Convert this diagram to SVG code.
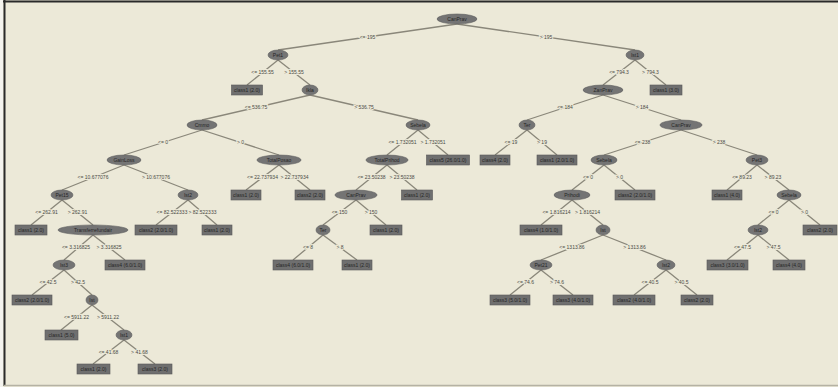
<svg xmlns="http://www.w3.org/2000/svg" width="838" height="387" viewBox="0 0 838 387">
<style>
.bg{fill:#ECE9D8}
.e{fill:#747474;stroke:#606060;stroke-width:0.6}
.l{fill:#6f6f6f;stroke:#585858;stroke-width:0.6}
.t{font-family:"Liberation Sans",Arial,sans-serif;font-size:5px;fill:#262626;text-anchor:middle}
.c line{stroke:#8a877a;stroke-width:1.3}
.c text{font-family:"Liberation Sans",Arial,sans-serif;font-size:5px;fill:#4a4a44;text-anchor:middle;stroke:#ECE9D8;stroke-width:2;paint-order:stroke}
</style>
<rect class="bg" x="0" y="0" width="838" height="387"/>
<rect x="0" y="0" width="3" height="387" fill="#f4f3ee"/>
<line x1="3" y1="1.5" x2="838" y2="1.5" stroke="#2a2a2a" stroke-width="2"/>
<line x1="4.5" y1="0" x2="4.5" y2="386" stroke="#2a2a2a" stroke-width="2"/>
<line x1="4" y1="385.5" x2="838" y2="385.5" stroke="#b5b2a4" stroke-width="1.5"/>
<g class="c" id="connectors">
<line x1="457" y1="24" x2="278" y2="50"/><text x="367.5" y="38.8">&lt;= 195</text>
<line x1="457" y1="24" x2="635" y2="50"/><text x="546" y="38.8">&gt; 195</text>
<line x1="278" y1="60" x2="247" y2="85"/><text x="262.5" y="74.3">&lt;= 155.55</text>
<line x1="278" y1="60" x2="310" y2="85"/><text x="294" y="74.3">&gt; 155.55</text>
<line x1="635" y1="60" x2="603" y2="85"/><text x="619" y="74.3">&lt;= 794.3</text>
<line x1="635" y1="60" x2="666" y2="85"/><text x="650.5" y="74.3">&gt; 794.3</text>
<line x1="310" y1="95" x2="202" y2="120"/><text x="256" y="109.3">&lt;= 536.75</text>
<line x1="310" y1="95" x2="418" y2="120"/><text x="364" y="109.3">&gt; 536.75</text>
<line x1="603" y1="95" x2="527" y2="120"/><text x="565" y="109.3">&lt;= 184</text>
<line x1="603" y1="95" x2="681" y2="120"/><text x="642" y="109.3">&gt; 184</text>
<line x1="202" y1="130" x2="124" y2="155"/><text x="163" y="144.3">&lt;= 0</text>
<line x1="202" y1="130" x2="279" y2="155"/><text x="240.5" y="144.3">&gt; 0</text>
<line x1="418" y1="130" x2="387" y2="155"/><text x="402.5" y="144.3">&lt;= 1.732051</text>
<line x1="418" y1="130" x2="448" y2="155"/><text x="433" y="144.3">&gt; 1.732051</text>
<line x1="527" y1="130" x2="495" y2="155"/><text x="511" y="144.3">&lt;= 19</text>
<line x1="527" y1="130" x2="557" y2="155"/><text x="542" y="144.3">&gt; 19</text>
<line x1="681" y1="130" x2="604" y2="155"/><text x="642.5" y="144.3">&lt;= 238</text>
<line x1="681" y1="130" x2="757" y2="155"/><text x="719" y="144.3">&gt; 238</text>
<line x1="124" y1="165" x2="62" y2="190"/><text x="93" y="179.3">&lt;= 10.677076</text>
<line x1="124" y1="165" x2="188" y2="190"/><text x="156" y="179.3">&gt; 10.677076</text>
<line x1="279" y1="165" x2="246" y2="190"/><text x="262.5" y="179.3">&lt;= 22.737934</text>
<line x1="279" y1="165" x2="310" y2="190"/><text x="294.5" y="179.3">&gt; 22.737934</text>
<line x1="387" y1="165" x2="356" y2="190"/><text x="371.5" y="179.3">&lt;= 23.50238</text>
<line x1="387" y1="165" x2="417" y2="190"/><text x="402" y="179.3">&gt; 23.50238</text>
<line x1="604" y1="165" x2="572" y2="190"/><text x="588" y="179.3">&lt;= 0</text>
<line x1="604" y1="165" x2="635" y2="190"/><text x="619.5" y="179.3">&gt; 0</text>
<line x1="757" y1="165" x2="727" y2="190"/><text x="742" y="179.3">&lt;= 89.23</text>
<line x1="757" y1="165" x2="789" y2="190"/><text x="773" y="179.3">&gt; 89.23</text>
<line x1="62" y1="200" x2="31" y2="225"/><text x="46.5" y="214.3">&lt;= 262.91</text>
<line x1="62" y1="200" x2="93" y2="225"/><text x="77.5" y="214.3">&gt; 262.91</text>
<line x1="188" y1="200" x2="156" y2="225"/><text x="172" y="214.3">&lt;= 82.522333</text>
<line x1="188" y1="200" x2="217" y2="225"/><text x="202.5" y="214.3">&gt; 82.522333</text>
<line x1="356" y1="200" x2="323" y2="225"/><text x="339.5" y="214.3">&lt;= 150</text>
<line x1="356" y1="200" x2="386" y2="225"/><text x="371" y="214.3">&gt; 150</text>
<line x1="572" y1="200" x2="541" y2="225"/><text x="556.5" y="214.3">&lt;= 1.816214</text>
<line x1="572" y1="200" x2="603" y2="225"/><text x="587.5" y="214.3">&gt; 1.816214</text>
<line x1="789" y1="200" x2="758" y2="225"/><text x="773.5" y="214.3">&lt;= 0</text>
<line x1="789" y1="200" x2="820" y2="225"/><text x="804.5" y="214.3">&gt; 0</text>
<line x1="93" y1="235" x2="64" y2="260"/><text x="76" y="249.3">&lt;= 3.316825</text>
<line x1="93" y1="235" x2="125" y2="260"/><text x="109" y="249.3">&gt; 3.316825</text>
<line x1="323" y1="235" x2="293" y2="260"/><text x="308" y="249.3">&lt;= 8</text>
<line x1="323" y1="235" x2="357" y2="260"/><text x="340" y="249.3">&gt; 8</text>
<line x1="603" y1="235" x2="541" y2="260"/><text x="572" y="249.3">&lt;= 1313.86</text>
<line x1="603" y1="235" x2="666" y2="260"/><text x="634.5" y="249.3">&gt; 1313.86</text>
<line x1="758" y1="235" x2="727" y2="260"/><text x="742.5" y="249.3">&lt;= 47.5</text>
<line x1="758" y1="235" x2="789" y2="260"/><text x="773.5" y="249.3">&gt; 47.5</text>
<line x1="64" y1="270" x2="32" y2="295"/><text x="48" y="284.3">&lt;= 42.5</text>
<line x1="64" y1="270" x2="92" y2="295"/><text x="78" y="284.3">&gt; 42.5</text>
<line x1="541" y1="270" x2="510" y2="295"/><text x="525.5" y="284.3">&lt;= 74.6</text>
<line x1="541" y1="270" x2="573" y2="295"/><text x="557" y="284.3">&gt; 74.6</text>
<line x1="666" y1="270" x2="634" y2="295"/><text x="650" y="284.3">&lt;= 40.5</text>
<line x1="666" y1="270" x2="697" y2="295"/><text x="681.5" y="284.3">&gt; 40.5</text>
<line x1="92" y1="305" x2="61" y2="330"/><text x="76.5" y="319.3">&lt;= 5911.22</text>
<line x1="92" y1="305" x2="124" y2="330"/><text x="108" y="319.3">&gt; 5911.22</text>
<line x1="124" y1="340" x2="93" y2="364"/><text x="108.5" y="353.8">&lt;= 41.68</text>
<line x1="124" y1="340" x2="155" y2="364"/><text x="139.5" y="353.8">&gt; 41.68</text>
</g>
<g id="n0"><ellipse class="e" cx="457" cy="19" rx="20" ry="5"/><text class="t" x="457" y="20.8">CanPrav</text></g>
<g id="n1"><ellipse class="e" cx="278" cy="55" rx="10" ry="5"/><text class="t" x="278" y="56.8">Pet1</text></g>
<g id="n2"><ellipse class="e" cx="635" cy="55" rx="9" ry="5"/><text class="t" x="635" y="56.8">Ist1</text></g>
<g id="n3"><ellipse class="e" cx="310" cy="90" rx="8" ry="5"/><text class="t" x="310" y="91.8">Ikla</text></g>
<g id="n4"><ellipse class="e" cx="202" cy="125" rx="15" ry="5"/><text class="t" x="202" y="126.8">Cmmo</text></g>
<g id="n5"><ellipse class="e" cx="418" cy="125" rx="12" ry="5"/><text class="t" x="418" y="126.8">Sebela</text></g>
<g id="n6"><ellipse class="e" cx="603" cy="90" rx="20" ry="5"/><text class="t" x="603" y="91.8">ZanPrav</text></g>
<g id="n7"><ellipse class="e" cx="527" cy="125" rx="8" ry="5"/><text class="t" x="527" y="126.8">Ter</text></g>
<g id="n8"><ellipse class="e" cx="681" cy="125" rx="21" ry="5"/><text class="t" x="681" y="126.8">CanPrav</text></g>
<g id="n9"><ellipse class="e" cx="124" cy="160" rx="17" ry="5"/><text class="t" x="124" y="161.8">GainLoss</text></g>
<g id="n10"><ellipse class="e" cx="279" cy="160" rx="22" ry="5"/><text class="t" x="279" y="161.8">TotalPosao</text></g>
<g id="n11"><ellipse class="e" cx="387" cy="160" rx="21" ry="5"/><text class="t" x="387" y="161.8">TotalPrihod</text></g>
<g id="n12"><ellipse class="e" cx="604" cy="160" rx="13" ry="5"/><text class="t" x="604" y="161.8">Sebela</text></g>
<g id="n13"><ellipse class="e" cx="757" cy="160" rx="11" ry="5"/><text class="t" x="757" y="161.8">Pet3</text></g>
<g id="n14"><ellipse class="e" cx="62" cy="195" rx="11" ry="5"/><text class="t" x="62" y="196.8">Pet15</text></g>
<g id="n15"><ellipse class="e" cx="188" cy="195" rx="10" ry="5"/><text class="t" x="188" y="196.8">Ist2</text></g>
<g id="n16"><ellipse class="e" cx="356" cy="195" rx="21" ry="5"/><text class="t" x="356" y="196.8">CanPrav</text></g>
<g id="n17"><ellipse class="e" cx="572" cy="195" rx="18" ry="5"/><text class="t" x="572" y="196.8">Prihodi</text></g>
<g id="n18"><ellipse class="e" cx="789" cy="195" rx="12" ry="5"/><text class="t" x="789" y="196.8">Sebela</text></g>
<g id="n19"><ellipse class="e" cx="93" cy="230" rx="35" ry="5"/><text class="t" x="93" y="231.8">Transferrefundair</text></g>
<g id="n20"><ellipse class="e" cx="323" cy="230" rx="7" ry="5"/><text class="t" x="323" y="231.8">Ter</text></g>
<g id="n21"><ellipse class="e" cx="603" cy="230" rx="7" ry="5"/><text class="t" x="603" y="231.8">Ist</text></g>
<g id="n22"><ellipse class="e" cx="758" cy="230" rx="10" ry="5"/><text class="t" x="758" y="231.8">Ist2</text></g>
<g id="n23"><ellipse class="e" cx="64" cy="265" rx="11" ry="5"/><text class="t" x="64" y="266.8">Ist3</text></g>
<g id="n24"><ellipse class="e" cx="541" cy="265" rx="11" ry="5"/><text class="t" x="541" y="266.8">Pet21</text></g>
<g id="n25"><ellipse class="e" cx="666" cy="265" rx="9" ry="5"/><text class="t" x="666" y="266.8">Ist2</text></g>
<g id="n26"><ellipse class="e" cx="92" cy="300" rx="6" ry="5"/><text class="t" x="92" y="301.8">Ist</text></g>
<g id="n27"><ellipse class="e" cx="124" cy="335" rx="8" ry="5"/><text class="t" x="124" y="336.8">Ist1</text></g>
<g id="l0"><rect class="l" x="231.5" y="85" width="31" height="10"/><text class="t" x="247" y="91.8">class1 (2.0)</text></g>
<g id="l1"><rect class="l" x="650" y="85" width="32" height="10"/><text class="t" x="666" y="91.8">class1 (3.0)</text></g>
<g id="l2"><rect class="l" x="426.5" y="155" width="43" height="10"/><text class="t" x="448" y="161.8">class5 (26.0/1.0)</text></g>
<g id="l3"><rect class="l" x="480" y="155" width="30" height="10"/><text class="t" x="495" y="161.8">class4 (2.0)</text></g>
<g id="l4"><rect class="l" x="537" y="155" width="40" height="10"/><text class="t" x="557" y="161.8">class1 (2.0/1.0)</text></g>
<g id="l5"><rect class="l" x="231" y="190" width="30" height="10"/><text class="t" x="246" y="196.8">class1 (2.0)</text></g>
<g id="l6"><rect class="l" x="295" y="190" width="30" height="10"/><text class="t" x="310" y="196.8">class2 (2.0)</text></g>
<g id="l7"><rect class="l" x="401.5" y="190" width="31" height="10"/><text class="t" x="417" y="196.8">class1 (2.0)</text></g>
<g id="l8"><rect class="l" x="615" y="190" width="40" height="10"/><text class="t" x="635" y="196.8">class2 (2.0/1.0)</text></g>
<g id="l9"><rect class="l" x="712" y="190" width="30" height="10"/><text class="t" x="727" y="196.8">class1 (4.0)</text></g>
<g id="l10"><rect class="l" x="15" y="225" width="32" height="10"/><text class="t" x="31" y="231.8">class1 (2.0)</text></g>
<g id="l11"><rect class="l" x="135" y="225" width="42" height="10"/><text class="t" x="156" y="231.8">class2 (2.0/1.0)</text></g>
<g id="l12"><rect class="l" x="202" y="225" width="30" height="10"/><text class="t" x="217" y="231.8">class1 (2.0)</text></g>
<g id="l13"><rect class="l" x="370" y="225" width="32" height="10"/><text class="t" x="386" y="231.8">class1 (2.0)</text></g>
<g id="l14"><rect class="l" x="520" y="225" width="42" height="10"/><text class="t" x="541" y="231.8">class4 (1.0/1.0)</text></g>
<g id="l15"><rect class="l" x="803" y="225" width="34" height="10"/><text class="t" x="820" y="231.8">class2 (2.0)</text></g>
<g id="l16"><rect class="l" x="105" y="260" width="40" height="10"/><text class="t" x="125" y="266.8">class4 (6.0/1.0)</text></g>
<g id="l17"><rect class="l" x="273" y="260" width="40" height="10"/><text class="t" x="293" y="266.8">class4 (6.0/1.0)</text></g>
<g id="l18"><rect class="l" x="342" y="260" width="30" height="10"/><text class="t" x="357" y="266.8">class1 (2.0)</text></g>
<g id="l19"><rect class="l" x="707" y="260" width="41" height="10"/><text class="t" x="727.5" y="266.8">class3 (3.0/1.0)</text></g>
<g id="l20"><rect class="l" x="773" y="260" width="32" height="10"/><text class="t" x="789" y="266.8">class4 (4.0)</text></g>
<g id="l21"><rect class="l" x="12" y="295" width="40" height="10"/><text class="t" x="32" y="301.8">class2 (2.0/1.0)</text></g>
<g id="l22"><rect class="l" x="490" y="295" width="40" height="10"/><text class="t" x="510" y="301.8">class3 (5.0/1.0)</text></g>
<g id="l23"><rect class="l" x="553" y="295" width="40" height="10"/><text class="t" x="573" y="301.8">class3 (4.0/1.0)</text></g>
<g id="l24"><rect class="l" x="613" y="295" width="42" height="10"/><text class="t" x="634" y="301.8">class2 (4.0/1.0)</text></g>
<g id="l25"><rect class="l" x="681" y="295" width="32" height="10"/><text class="t" x="697" y="301.8">class2 (2.0)</text></g>
<g id="l26"><rect class="l" x="45" y="330" width="33" height="10"/><text class="t" x="61.5" y="336.8">class1 (5.0)</text></g>
<g id="l27"><rect class="l" x="77" y="364" width="33" height="10"/><text class="t" x="93.5" y="370.8">class1 (2.0)</text></g>
<g id="l28"><rect class="l" x="138" y="364" width="34" height="10"/><text class="t" x="155" y="370.8">class3 (2.0)</text></g>
</svg>
